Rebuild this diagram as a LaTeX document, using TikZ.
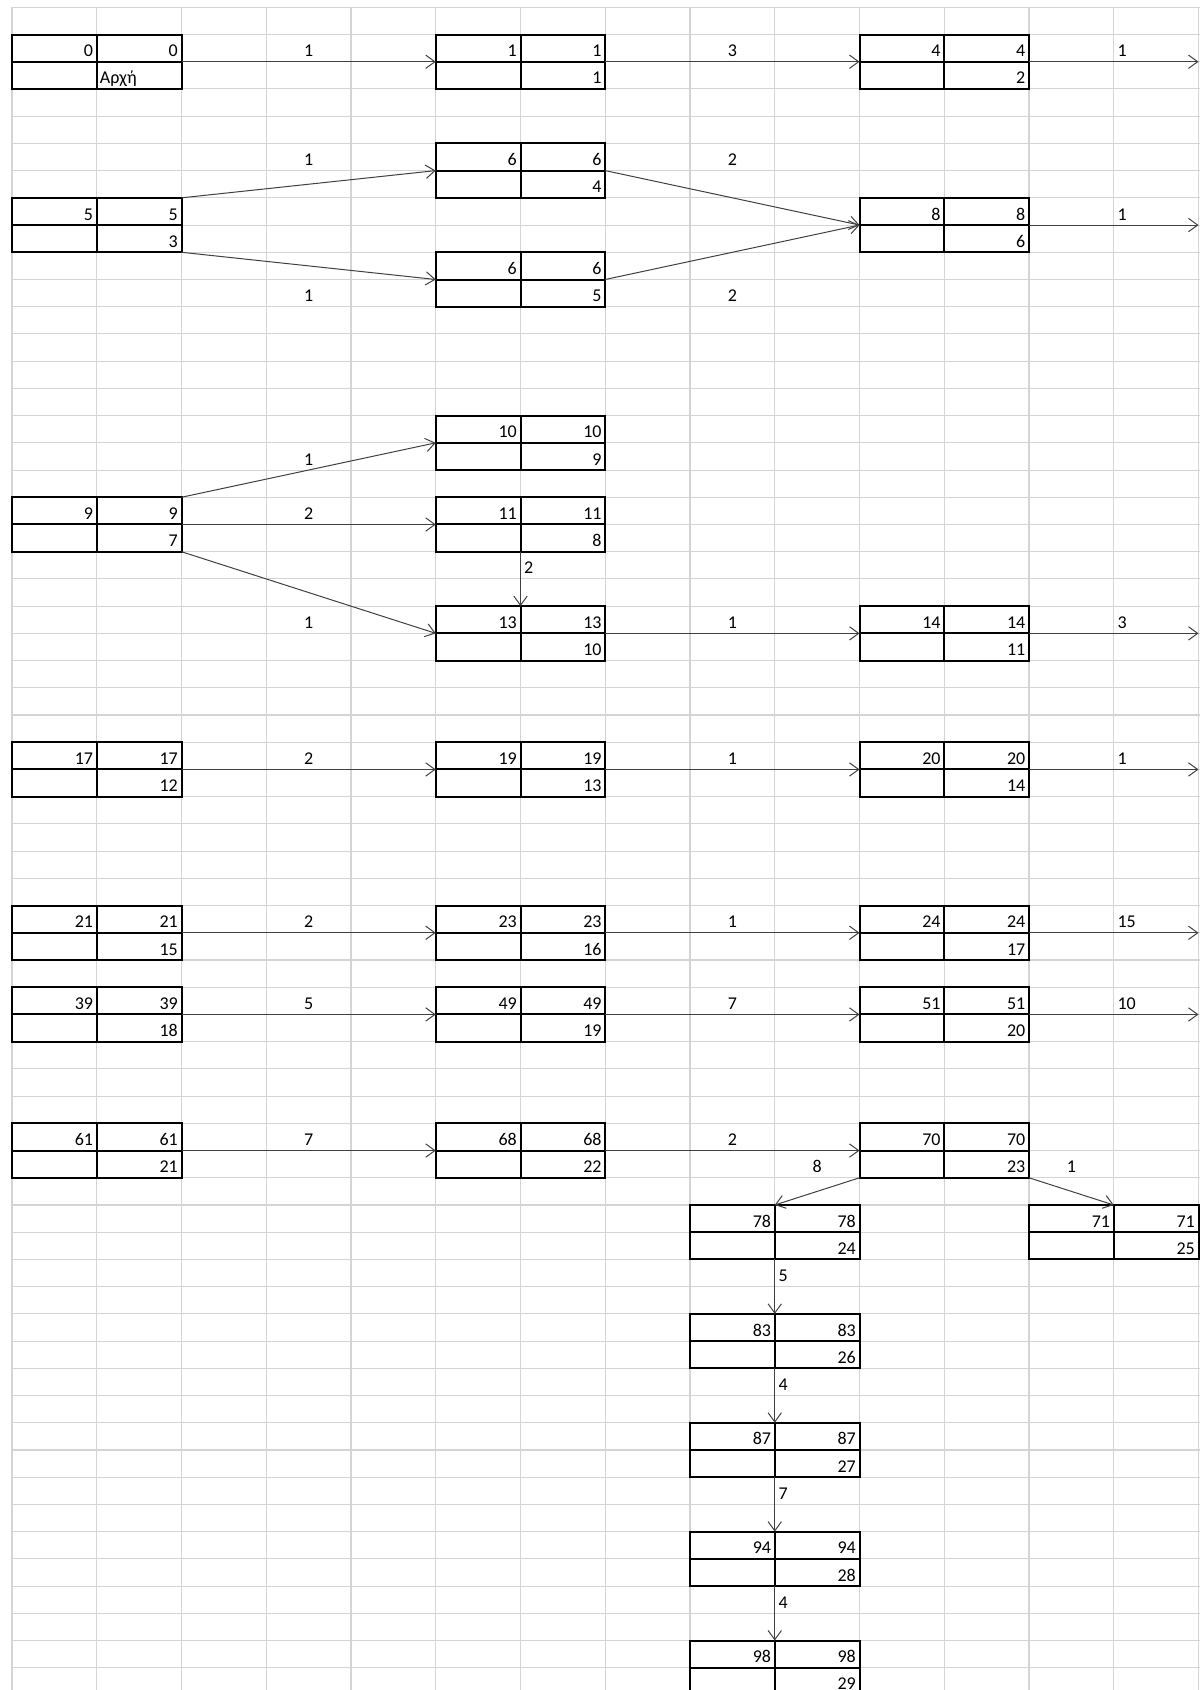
\documentclass[tikz,border=0pt]{standalone}
\usepackage{fontspec}
\setmainfont{Carlito}
\usetikzlibrary{arrows.meta,calc}
\definecolor{gridgray}{RGB}{212,212,212}

\begin{document}
\begin{tikzpicture}[x=63.5625pt, y=-20.415pt, font=\fontsize{13.5}{16}\selectfont]
	\tikzset{cellbox/.style = {draw, line width=1.5pt, fill=white, inner sep=0pt, outer sep=0pt,
			minimum width=127.125pt, minimum height=40.83pt},
		boxline/.style = {line width=1.5pt},
		gridline/.style = {draw=gridgray, line width=0.8pt},
		link/.style = {draw=black!75, line width=0.75pt, -{Straight Barb[length=6.9pt, width=10pt]}},
		num/.style = {inner sep=0pt, anchor=base east},
		lab/.style = {inner sep=0pt}}
	\newcommand\pad{2.6pt}
	\useasboundingbox (-0.1416,-0.2682) rectangle (14.0177,61.818);
	% sheet grid
	\foreach \i in {0,...,14}
		\draw[gridline] (\i,0) -- (\i,61.818);
	\foreach \j in {0,...,61}
		\draw[gridline] (0,\j) -- (14.0177,\j);
	% boxes: name/col/row/top left/top right/bottom right
	\foreach \n/\c/\r/\a/\b/\d in {b0/0/1/0/0/{},
		b1/5/1/1/1/1, b4/10/1/4/4/2,
		b5/0/7/5/5/3, b6a/5/5/6/6/4, b6b/5/9/6/6/5, b8/10/7/8/8/6,
		b9/0/18/9/9/7, b10/5/15/10/10/9, b11/5/18/11/11/8, b13/5/22/13/13/10, b14/10/22/14/14/11,
		b17/0/27/17/17/12, b19/5/27/19/19/13, b20/10/27/20/20/14,
		b21/0/33/21/21/15, b23/5/33/23/23/16, b24/10/33/24/24/17,
		b39/0/36/39/39/18, b49/5/36/49/49/19, b51/10/36/51/51/20,
		b61/0/41/61/61/21, b68/5/41/68/68/22, b70/10/41/70/70/23,
		b78/8/44/78/78/24, b71/12/44/71/71/25,
		b83/8/48/83/83/26, b87/8/52/87/87/27, b94/8/56/94/94/28, b98/8/60/98/98/29}{
		\node[cellbox] (\n) at (\c+1,\r+1) {};
		\draw[boxline] (\n.north) -- (\n.south) (\n.west) -- (\n.east);
		\node[num] (\n-a) at ($(\n.north)+(-\pad,-16.66pt)$) {\a};
		\node[num] (\n-b) at ($(\n.north east)+(-\pad,-16.66pt)$) {\b};
		\node[num] (\n-d) at ($(\n.south east)+(-\pad,3.76pt)$) {\d};
	}
	\node[lab, anchor=base west] (start) at ($(b0.south)+(2.2pt,3.76pt)$) {Αρχή};
	% durations, centred in their cell
	\foreach \n/\c/\r/\t in {l1/3/1/1, l2/8/1/3, l3/3/5/1, l4/8/5/2, l5/3/10/1, l6/8/10/2,
		l7/3/16/1, l8/3/18/2, l9/3/22/1, l10/8/22/1, l11/3/27/2, l12/8/27/1,
		l13/3/33/2, l14/8/33/1, l15/3/36/5, l16/8/36/7, l17/3/41/7, l18/8/41/2,
		l19/9/42/8, l20/12/42/1}
		\node[lab, anchor=base] (\n) at (\c+0.5,\r+0.816) {\t};
	% durations, left in their cell
	\foreach \n/\c/\r/\t in {m1/13/1/1, m2/13/7/1, m3/13/22/3, m4/13/27/1, m5/13/33/15, m6/13/36/10,
		m7/6/20/2, m8/9/46/5, m9/9/50/4, m10/9/54/7, m11/9/58/4}
		\node[lab, anchor=base west] (\n) at ($(\c,\r+0.816)+(\pad,0pt)$) {\t};
	% open ends at the right edge
	\coordinate (e1) at (14,2);
	\coordinate (e2) at (14,8);
	\coordinate (e3) at (14,23);
	\coordinate (e4) at (14,28);
	\coordinate (e5) at (14,34);
	\coordinate (e6) at (14,37);
	\draw[link] (b0.east) -- (b1.west);
	\draw[link] (b1.east) -- (b4.west);
	\draw[link] (b4.east) -- (e1);
	\draw[link] (b5.north east) -- (b6a.west);
	\draw[link] (b5.south east) -- (b6b.west);
	\draw[link] (b6a.east) -- (b8.west);
	\draw[link] (b6b.east) -- (b8.west);
	\draw[link] (b8.east) -- (e2);
	\draw[link] (b9.north east) -- (b10.west);
	\draw[link] (b9.east) -- (b11.west);
	\draw[link] (b9.south east) -- (b13.west);
	\draw[link] (b11.south) -- (b13.north);
	\draw[link] (b13.east) -- (b14.west);
	\draw[link] (b14.east) -- (e3);
	\draw[link] (b17.east) -- (b19.west);
	\draw[link] (b19.east) -- (b20.west);
	\draw[link] (b20.east) -- (e4);
	\draw[link] (b21.east) -- (b23.west);
	\draw[link] (b23.east) -- (b24.west);
	\draw[link] (b24.east) -- (e5);
	\draw[link] (b39.east) -- (b49.west);
	\draw[link] (b49.east) -- (b51.west);
	\draw[link] (b51.east) -- (e6);
	\draw[link] (b61.east) -- (b68.west);
	\draw[link] (b68.east) -- (b70.west);
	\draw[link] (b70.south west) -- (b78.north);
	\draw[link] (b70.south east) -- (b71.north);
	\draw[link] (b78.south) -- (b83.north);
	\draw[link] (b83.south) -- (b87.north);
	\draw[link] (b87.south) -- (b94.north);
	\draw[link] (b94.south) -- (b98.north);
\end{tikzpicture}
\end{document}
